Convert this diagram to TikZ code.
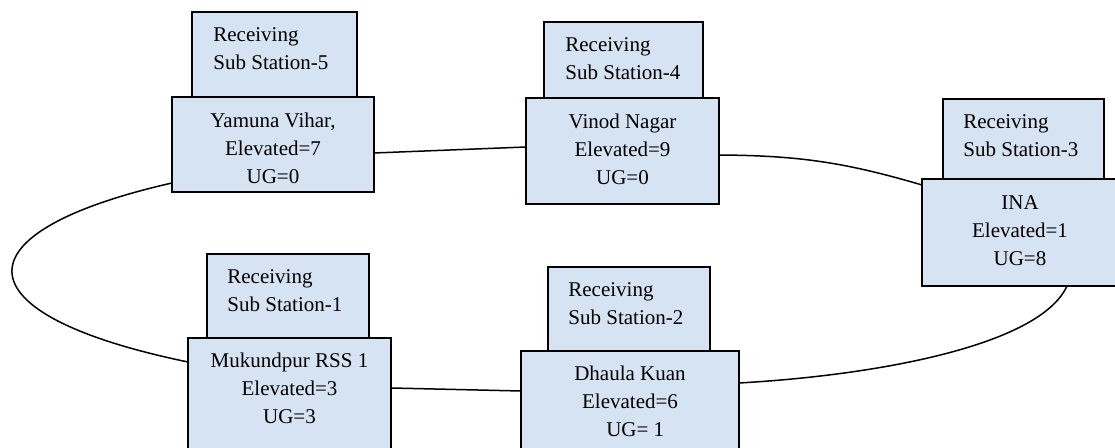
\documentclass[tikz,border=0pt]{standalone}
\usepackage{fontspec}
\setmainfont{Liberation Serif}
\usetikzlibrary{calc,fit}
\definecolor{boxfill}{RGB}{214,227,242}
\tikzset{
  stbox/.style={draw=black, line width=1pt, fill=boxfill, inner sep=0pt, outer sep=0pt},
  toptxt/.style={anchor=north west, inner sep=0pt, align=left, font=\fontsize{10.5}{14}\selectfont},
  lowtxt/.style={anchor=north, inner sep=0pt, align=center, font=\fontsize{10.5}{14}\selectfont},
  link/.style={draw=black, line width=0.75pt}
}
\begin{document}
\begin{tikzpicture}[x=0.5pt,y=-0.5pt]
\clip (0,0) rectangle (1115,448);
\fill[white] (0,0) rectangle (1115,448);
% receiving boxes (top)
\node[stbox, fit={(192,12) (357,97)}] (r5) {};
\node[stbox, fit={(544,22) (703,98)}] (r4) {};
\node[stbox, fit={(943,99) (1104,179)}] (r3) {};
\node[stbox, fit={(207,254) (369,338)}] (r1) {};
\node[stbox, fit={(548,267) (710,351)}] (r2) {};
% station boxes (lower)
\node[stbox, fit={(172,97) (374,192)}] (s5) {};
\node[stbox, fit={(526,98) (719,204)}] (s4) {};
\node[stbox, fit={(922,179) (1125,286)}] (s3) {};
\node[stbox, fit={(188,338) (391,460)}] (s1) {};
\node[stbox, fit={(521,351) (739,460)}] (s2) {};
% texts
\node[toptxt] (r5t) at ($(r5.north west)+(21,15)$) {Receiving\\Sub Station-5};
\node[toptxt] (r4t) at ($(r4.north west)+(21,15)$) {Receiving\\Sub Station-4};
\node[toptxt] (r3t) at ($(r3.north west)+(20,15)$) {Receiving\\Sub Station-3};
\node[toptxt] (r1t) at ($(r1.north west)+(20,15)$) {Receiving\\Sub Station-1};
\node[toptxt] (r2t) at ($(r2.north west)+(20,15)$) {Receiving\\Sub Station-2};
\node[lowtxt] (s5t) at ($(s5.north)+(0,16)$) {Yamuna Vihar,\\Elevated=7\\UG=0};
\node[lowtxt] (s4t) at ($(s4.north)+(0,16)$) {Vinod Nagar\\Elevated=9\\UG=0};
\node[lowtxt] (s3t) at (1020,195) {INA\\Elevated=1\\UG=8};
\node[lowtxt] (s1t) at ($(s1.north)+(0,15)$) {Mukundpur RSS 1\\Elevated=3\\UG=3};
\node[lowtxt] (s2t) at ($(s2.north)+(0,15)$) {Dhaula Kuan\\Elevated=6\\\ \ UG= 1};
% connectors
\coordinate (s5e) at (s5.north east |- 0,153);
\coordinate (s4w) at (s4.north west |- 0,147);
\coordinate (s4e) at (s4.north east |- 0,155);
\coordinate (s3w) at (s3.north west |- 0,185);
\coordinate (s3s) at (s3.south west -| 1067,0);
\coordinate (s2e) at (s2.north east |- 0,383);
\coordinate (s2w) at (s2.north west |- 0,391);
\coordinate (s1e) at (s1.north east |- 0,388);
\coordinate (s1w) at (s1.north west |- 0,362);
\coordinate (s5w) at (s5.north west |- 0,183);
\draw[link] (s5e) -- (s4w);
\draw[link] (s4e) to[bend left=8] (s3w);
\draw[link] (s3s) .. controls (1040,345) and (880,375) .. (s2e);
\draw[link] (s2w) -- (s1e);
\draw[link] (s1w) .. controls (-44,314) and (-44,232) .. (s5w);
\end{tikzpicture}
\end{document}
